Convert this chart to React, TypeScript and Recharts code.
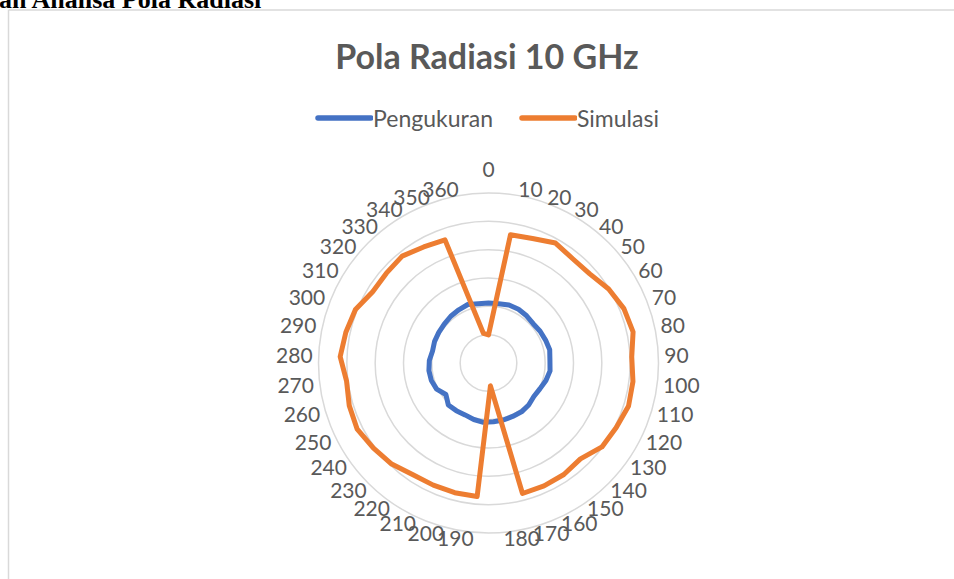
import React from 'react';
import {
  PolarAngleAxis,
  PolarGrid,
  PolarRadiusAxis,
  Radar,
  RadarChart,
} from 'recharts';

// sudut (derajat) 0..360 tiap 10
const angles = [
  '0', '10', '20', '30', '40', '50', '60', '70', '80', '90',
  '100', '110', '120', '130', '140', '150', '160', '170', '180', '190',
  '200', '210', '220', '230', '240', '250', '260', '270', '280', '290',
  '300', '310', '320', '330', '340', '350', '360',
];

// hasil pengukuran (dB)
const pengukuran = [
  -38.8, -38.8, -38.3, -38.3, -38.6, -39.0, -38.6, -38.3, -37.9, -38.3,
  -38.1, -38.8, -39.7, -40.1, -39.5, -39.2, -39.3, -39.2, -39.2, -39.0,
  -39.4, -39.9, -39.7, -39.5, -41.3, -39.5, -38.9, -38.8, -39.1, -39.8,
  -39.5, -39.4, -39.2, -38.8, -38.5, -38.1, -38.8,
];

// hasil simulasi (dB)
const simulasi = [
  -50.1, -14.1, -13.4, -11.5, -12.7, -12.4, -10.2, -8.5, -7.8, -9.4,
  -8.6, -8.3, -9.5, -10.2, -13.1, -12.5, -12.4, -12.4, -51.9, -12.7,
  -12.7, -12.7, -12.4, -10.6, -9.5, -8.1, -8.6, -9.5, -7.6, -8.5,
  -9.4, -12.0, -12.0, -11.5, -13.1, -13.9, -49.4,
];

const series = [
  { key: 'pengukuran', name: 'Pengukuran', color: '#4472C4' },
  { key: 'simulasi', name: 'Simulasi', color: '#ED7D31' },
];

const data = angles.map((a, i) => ({
  angle: a,
  pengukuran: pengukuran[i],
  simulasi: simulasi[i],
}));

const CX = 488.5;
const CY = 363;
const R = 170;
const FONT = 'Lato, "Open Sans", sans-serif';
const TEXT = '#595959';

function AngleTick(props: any) {
  const { payload } = props;
  const deg =
    payload && typeof payload.coordinate === 'number'
      ? payload.coordinate
      : (Math.atan2(CY - props.y, props.x - CX) * 180) / Math.PI;
  const a = (deg * Math.PI) / 180;
  const r = R + 6;
  const x = CX + r * Math.cos(a);
  const y = CY - r * Math.sin(a);
  const c = Math.cos(a);
  let anchor = 'middle';
  if (c > 0.02) anchor = 'start';
  else if (c < -0.02) anchor = 'end';
  const top = Math.abs(c) <= 0.02 && Math.sin(a) > 0;
  return (
    <text
      x={x}
      y={top ? y - 10 : y + 7.5}
      textAnchor={anchor}
      fill={TEXT}
      fontSize={21}
      fontFamily={FONT}
    >
      {payload.value}
    </text>
  );
}

export default function App() {
  return (
    <div
      style={{
        position: 'absolute',
        left: 0,
        top: 0,
        width: 954,
        height: 579,
        background: '#fff',
        overflow: 'hidden',
      }}
    >
      <svg
        width={954}
        height={579}
        style={{ position: 'absolute', left: 0, top: 0 }}
      >
        <text
          x={-1}
          y={8}
          fontFamily='"Liberation Serif", "Times New Roman", serif'
          fontWeight="bold"
          fontSize={26}
          fill="#000"
        >
          an Analisa Pola Radiasi
        </text>
        <line x1={8.5} y1={10} x2={954} y2={10} stroke="#d9d9d9" strokeWidth={1.5} />
        <line x1={8.5} y1={10} x2={8.5} y2={579} stroke="#d9d9d9" strokeWidth={1.5} />
        <text
          x={487}
          y={69}
          textAnchor="middle"
          fontFamily={FONT}
          fontWeight="bold"
          fontSize={34}
          fill={TEXT}
        >
          Pola Radiasi 10 GHz
        </text>
      </svg>

      <div
        style={{
          position: 'absolute',
          left: 10,
          top: 104,
          width: 954,
          display: 'flex',
          justifyContent: 'center',
          gap: 26,
          fontFamily: FONT,
          fontSize: 23,
          color: TEXT,
        }}
      >
        {series.map((s) => (
          <div key={s.key} style={{ display: 'flex', alignItems: 'center' }}>
            <svg width={58} height={28}>
              <line x1={3} y1={14} x2={56} y2={14} stroke={s.color} strokeWidth={5.5} strokeLinecap="round" />
            </svg>
            <span style={{ lineHeight: '28px' }}>{s.name}</span>
          </div>
        ))}
      </div>

      <div style={{ position: 'absolute', left: 0, top: 0 }}>
        <RadarChart
          width={954}
          height={579}
          data={data}
          cx={CX}
          cy={CY}
          outerRadius={R}
          startAngle={90}
          endAngle={-270}
          margin={{ top: 0, right: 0, bottom: 0, left: 0 }}
        >
          <PolarGrid gridType="circle" radialLines={false} stroke="#d9d9d9" strokeWidth={1.5} />
          <PolarRadiusAxis
            domain={[-60, 0]}
            tickCount={7}
            angle={90}
            tick={false}
            axisLine={false}
          />
          <PolarAngleAxis
            dataKey="angle"
            axisLine={false}
            tickLine={false}
            tick={<AngleTick />}
          />
          {series.map((s) => (
            <Radar
              key={s.key}
              dataKey={s.key}
              name={s.name}
              stroke={s.color}
              strokeWidth={5}
              strokeLinejoin="round"
              fill="none"
              fillOpacity={0}
              dot={false}
              isAnimationActive={false}
            />
          ))}
        </RadarChart>
      </div>
    </div>
  );
}
